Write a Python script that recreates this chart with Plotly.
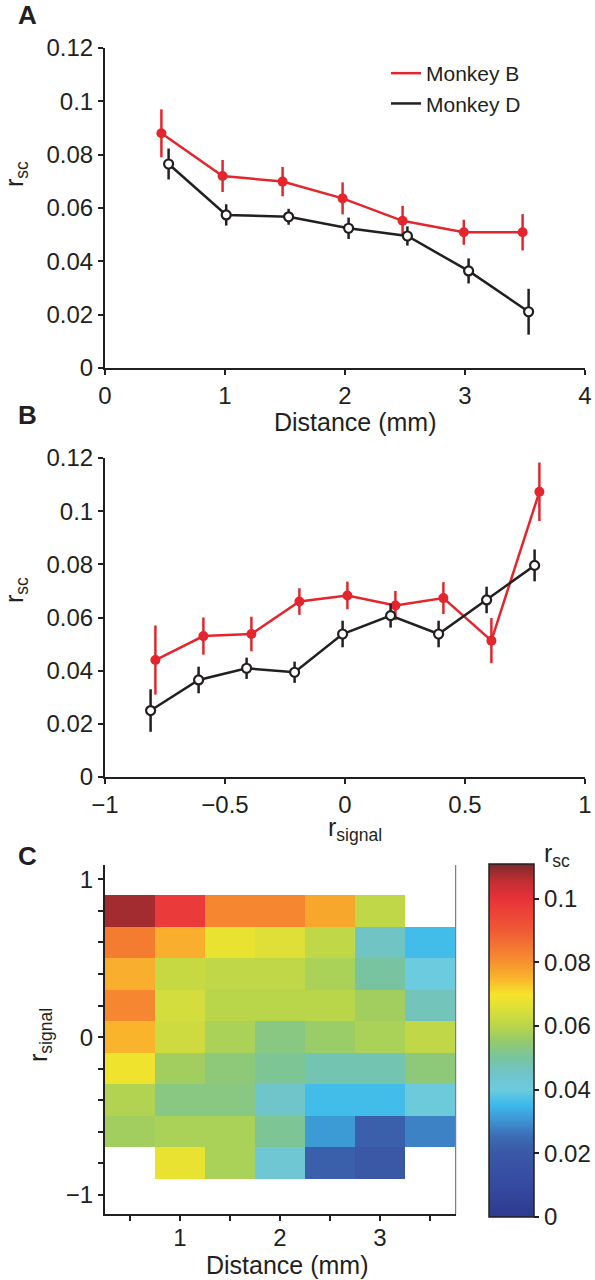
import plotly.graph_objects as go

# ---------------- data ----------------
# Panel A: r_sc vs distance
a_red_x = [0.47, 0.98, 1.48, 1.98, 2.48, 2.99, 3.48]
a_red_y = [0.088, 0.072, 0.0699, 0.0636, 0.0552, 0.0509, 0.0509]
a_red_e = [0.009, 0.006, 0.0055, 0.006, 0.0056, 0.0047, 0.0068]
a_blk_x = [0.53, 1.01, 1.53, 2.03, 2.52, 3.03, 3.53]
a_blk_y = [0.0765, 0.0574, 0.0567, 0.0524, 0.0495, 0.0364, 0.0211]
a_blk_e = [0.0058, 0.004, 0.003, 0.004, 0.0036, 0.0047, 0.0086]

# Panel B: r_sc vs r_signal
b_red_x = [-0.79, -0.59, -0.39, -0.19, 0.01, 0.21, 0.41, 0.61, 0.81]
b_red_y = [0.044, 0.053, 0.0538, 0.066, 0.0683, 0.0645, 0.0673, 0.0513, 0.1073]
b_red_e = [0.013, 0.007, 0.0065, 0.005, 0.0052, 0.0055, 0.006, 0.0085, 0.011]
b_blk_x = [-0.81, -0.61, -0.41, -0.21, -0.01, 0.19, 0.39, 0.59, 0.79]
b_blk_y = [0.025, 0.0365, 0.0409, 0.0394, 0.0538, 0.0607, 0.0538, 0.0666, 0.0796]
b_blk_e = [0.008, 0.005, 0.004, 0.004, 0.005, 0.0045, 0.005, 0.005, 0.006]

# Panel C: heat map
c_dist = [0.5, 1.0, 1.5, 2.0, 2.5, 3.0, 3.5]
c_rsig = [0.8, 0.6, 0.4, 0.2, 0.0, -0.2, -0.4, -0.6, -0.8]
N = None
c_z = [
    [0.108, 0.098, 0.082, 0.082, 0.077, 0.061, N],
    [0.084, 0.076, 0.068, 0.066, 0.061, 0.046, 0.036],
    [0.076, 0.062, 0.061, 0.061, 0.058, 0.050, 0.040],
    [0.082, 0.064, 0.060, 0.060, 0.060, 0.057, 0.047],
    [0.075, 0.063, 0.058, 0.053, 0.056, 0.058, 0.061],
    [0.069, 0.057, 0.054, 0.051, 0.048, 0.048, 0.054],
    [0.059, 0.053, 0.053, 0.045, 0.036, 0.036, 0.041],
    [0.057, 0.058, 0.058, 0.051, 0.031, 0.022, 0.028],
    [N, 0.068, 0.058, 0.043, 0.022, 0.020, N],
]

rsc_ticks = [0, 0.02, 0.04, 0.06, 0.08, 0.1, 0.12]
rsc_labels = ["0", "0.02", "0.04", "0.06", "0.08", "0.1", "0.12"]
dist_ticks = [0, 1, 2, 3, 4]
rsig_ticks = [-1, -0.5, 0, 0.5, 1]
rsig_labels = ["\u22121", "\u22120.5", "0", "0.5", "1"]
cb_ticks = [0, 0.02, 0.04, 0.06, 0.08, 0.1]
cb_labels = ["0", "0.02", "0.04", "0.06", "0.08", "0.1"]

RED = "#E3262D"
BLK = "#231F20"
FONT = "Liberation Sans, Arial, sans-serif"

jet = [
    [0.00, "#2E3A8E"], [0.09, "#354AA0"], [0.18, "#3A58A5"], [0.23, "#3C6DB5"],
    [0.27, "#3C92D0"], [0.32, "#3DBBEB"], [0.36, "#6CCBDE"], [0.41, "#70C4C8"],
    [0.45, "#78C4A0"], [0.50, "#96CB6B"], [0.54, "#B9D54A"], [0.585, "#D9DF3A"],
    [0.63, "#F5E42A"], [0.675, "#F9B52C"], [0.72, "#F7932F"], [0.81, "#F05A34"],
    [0.90, "#E8323A"], [0.95, "#C42E33"], [1.00, "#7B2A2A"],
]

fig = go.Figure()

def add_series(x, y, e, color, filled, xa, ya):
    fig.add_trace(go.Scatter(
        x=x, y=y, mode="lines+markers", xaxis=xa, yaxis=ya, showlegend=False,
        line=dict(color=color, width=2.5),
        marker=dict(size=10 if filled else 9, color=color if filled else "white",
                    line=dict(color=color, width=0 if filled else 2.2)),
        error_y=dict(type="data", array=e, visible=True, color=color,
                     thickness=2.5, width=0),
    ))

add_series(a_red_x, a_red_y, a_red_e, RED, True, "x", "y")
add_series(a_blk_x, a_blk_y, a_blk_e, BLK, False, "x", "y")
add_series(b_red_x, b_red_y, b_red_e, RED, True, "x2", "y2")
add_series(b_blk_x, b_blk_y, b_blk_e, BLK, False, "x2", "y2")

# legend-only traces
fig.add_trace(go.Scatter(x=[None], y=[None], mode="lines", name="Monkey B",
                         line=dict(color=RED, width=2.5), xaxis="x", yaxis="y"))
fig.add_trace(go.Scatter(x=[None], y=[None], mode="lines", name="Monkey D",
                         line=dict(color=BLK, width=2.5), xaxis="x", yaxis="y"))

fig.add_trace(go.Heatmap(
    x=c_dist, y=c_rsig, z=c_z, xaxis="x3", yaxis="y3",
    colorscale=jet, zmin=0, zmax=0.111, hoverongaps=False,
    colorbar=dict(
        x=489.0 / 595, xanchor="left", xref="paper", xpad=0, ypad=0,
        y=1 - 1040.3 / 1280, yanchor="middle", len=352.7 / 1280, lenmode="fraction",
        thickness=45, thicknessmode="pixels",
        outlinewidth=1.5, outlinecolor=BLK,
        tickmode="array", tickvals=cb_ticks, ticktext=cb_labels,
        ticks="outside", ticklen=5, tickwidth=1.5, tickcolor=BLK,
        tickfont=dict(size=24, color=BLK, family=FONT),
    ),
))

axis_common = dict(showgrid=False, zeroline=False, showline=True, linecolor=BLK,
                   linewidth=2, ticks="outside", ticklen=5, tickwidth=2, tickcolor=BLK,
                   automargin=False,
                   tickfont=dict(size=24, color=BLK, family=FONT))

fig.update_layout(
    width=595, height=1280, autosize=False,
    margin=dict(l=0, r=0, t=0, b=0, pad=0, autoexpand=False),
    paper_bgcolor="white", plot_bgcolor="white",
    font=dict(family=FONT, color=BLK),
    showlegend=True,
    legend=dict(x=386 / 595, y=1 - 53 / 1280, xanchor="left", yanchor="top",
                bgcolor="rgba(0,0,0,0)", font=dict(size=21, color=BLK, family=FONT),
                tracegroupgap=0),
    xaxis=dict(domain=[105 / 595, 585 / 595], range=[0, 4], anchor="y",
               tickmode="array", tickvals=dist_ticks, **axis_common),
    yaxis=dict(domain=[1 - 368 / 1280, 1 - 48 / 1280], range=[0, 0.12], anchor="x",
               tickmode="array", tickvals=rsc_ticks, ticktext=rsc_labels, **axis_common),
    xaxis2=dict(domain=[105 / 595, 585 / 595], range=[-1, 1], anchor="y2",
                tickmode="array", tickvals=rsig_ticks, ticktext=rsig_labels, **axis_common),
    yaxis2=dict(domain=[1 - 777 / 1280, 1 - 458 / 1280], range=[0, 0.12], anchor="x2",
                tickmode="array", tickvals=rsc_ticks, ticktext=rsc_labels, **axis_common),
    xaxis3=dict(domain=[105 / 595, 455.7 / 595], range=[0.25, 3.757], anchor="y3",
                tickmode="array", tickvals=[0.5, 1, 1.5, 2, 2.5, 3, 3.5],
                ticktext=["", "1", "", "2", "", "3", ""], ticklabelstandoff=-4,
                **axis_common),
    yaxis3=dict(domain=[1 - 1214 / 1280, 1 - 865 / 1280], range=[-1.12, 1.09], anchor="x3",
                tickmode="array",
                tickvals=[-1, -0.8, -0.6, -0.4, -0.2, 0, 0.2, 0.4, 0.6, 0.8, 1],
                ticktext=["\u22121", "", "", "", "", "0", "", "", "", "", "1"], **axis_common),
)

# thin right frame line in panel C
fig.add_shape(type="line", xref="x3 domain", yref="y3 domain", x0=1, x1=1, y0=0, y1=1,
              line=dict(color="#5A5F7A", width=1))

def ann(text, x, y, size, angle=0, bold=False):
    fig.add_annotation(text=("<b>%s</b>" % text) if bold else text,
                       x=x / 595, y=1 - y / 1280, xref="paper", yref="paper",
                       showarrow=False, textangle=angle, xanchor="center", yanchor="middle",
                       font=dict(size=size, color=BLK, family=FONT))

ann("A", 27, 15, 26, bold=True)
ann("B", 27, 415, 26, bold=True)
ann("C", 27, 856, 26, bold=True)
ann("Distance (mm)", 355, 422, 25)
ann("r<sub>sc</sub>", 16, 174, 25, angle=-90)
ann("r<sub>sc</sub>", 16, 590, 25, angle=-90)
ann("r<sub>signal</sub>", 355, 829, 25)
ann("r<sub>signal</sub>", 40, 1035, 25, angle=-90)
ann("Distance (mm)", 287, 1265, 25)
ann("r<sub>sc</sub>", 557, 855, 25)

fig.write_html(
    "out.html",
    config={"displayModeBar": False},
    post_script="document.body.style.margin='0';document.body.style.padding='0';"
                "document.documentElement.style.overflow='hidden';",
)
